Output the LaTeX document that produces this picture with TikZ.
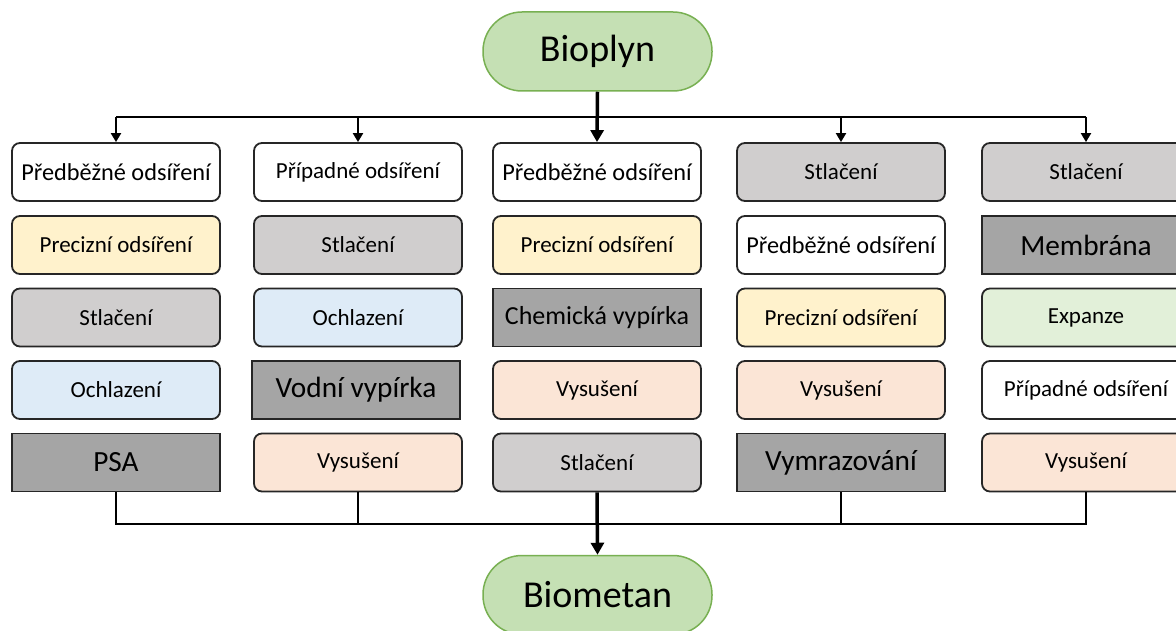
\documentclass[tikz,border=0pt]{standalone}
\usepackage{fontspec}
\setmainfont{Carlito}
\usetikzlibrary{arrows.meta}
\definecolor{cwhite}{HTML}{FFFFFF}
\definecolor{cyel}{HTML}{FFF2CC}
\definecolor{cgray}{HTML}{D0CECE}
\definecolor{cblue}{HTML}{DEEBF7}
\definecolor{cdark}{HTML}{A5A5A5}
\definecolor{cpeach}{HTML}{FBE5D6}
\definecolor{cgreen}{HTML}{E2F0D9}
\definecolor{bgfill}{HTML}{C5E0B4}
\definecolor{bgline}{HTML}{78B052}
\definecolor{lin}{HTML}{262626}
\tikzset{
  proc/.style={draw=lin, line width=1.8pt, rounded corners=8pt, minimum width=208pt, minimum height=58pt, inner sep=0pt, font=\fontsize{23}{27}\selectfont, text=black},
  wide/.style={font=\fontsize{24.3}{28}\selectfont},
  big/.style={draw=lin, line width=1.8pt, sharp corners, minimum width=208pt, minimum height=58pt, inner sep=0pt, font=\fontsize{29.3}{33}\selectfont, fill=cdark, text=black},
  term/.style={draw=bgline, line width=1.5pt, fill=bgfill, rounded corners=39pt, minimum width=229pt, minimum height=79pt, inner sep=0pt, font=\fontsize{38}{42}\selectfont},
  conn/.style={line width=2pt, draw=black},
  mainconn/.style={line width=3.5pt, draw=black},
  arr/.style={-{Triangle[length=9pt,width=10pt]}},
  bigarr/.style={-{Triangle[length=12pt,width=13pt]}}
}
\begin{document}
\begin{tikzpicture}[x=1pt,y=-1pt]
\useasboundingbox (0,0) rectangle (1176,631);
\clip (0,0) rectangle (1176,631);
\fill[white] (0,0) rectangle (1176,631);

\node[term] (bio) at (597.5,51.5) {Bioplyn};
\node[term] (bm) at (597.5,595) {Biometan};

% column 1
\node[proc, wide, fill=cwhite] (a1) at (116,172) {Předběžné odsíření};
\node[proc, fill=cyel]   (a2) at (116,245) {Precizní odsíření};
\node[proc, fill=cgray]  (a3) at (116,317.5) {Stlačení};
\node[proc, fill=cblue]  (a4) at (116,390) {Ochlazení};
\node[big]               (a5) at (116,462.5) {PSA};
% column 2
\node[proc, fill=cwhite] (b1) at (358,172) {Případné odsíření};
\node[proc, fill=cgray]  (b2) at (358,245) {Stlačení};
\node[proc, fill=cblue]  (b3) at (358,317.5) {Ochlazení};
\node[big]               (b4) at (356,390) {Vodní vypírka};
\node[proc, fill=cpeach] (b5) at (358,462.5) {Vysušení};
% column 3
\node[proc, wide, fill=cwhite] (c1) at (597,172) {Předběžné odsíření};
\node[proc, fill=cyel]   (c2) at (597,245) {Precizní odsíření};
\node[big, font=\fontsize{26}{30}\selectfont] (c3) at (597,317.5) {Chemická vypírka};
\node[proc, fill=cpeach] (c4) at (597,390) {Vysušení};
\node[proc, fill=cgray]  (c5) at (597,462.5) {Stlačení};
% column 4
\node[proc, fill=cgray]  (d1) at (841,172) {Stlačení};
\node[proc, wide, fill=cwhite] (d2) at (841,245) {Předběžné odsíření};
\node[proc, fill=cyel]   (d3) at (841,317.5) {Precizní odsíření};
\node[proc, fill=cpeach] (d4) at (841,390) {Vysušení};
\node[big]               (d5) at (841,462.5) {Vymrazování};
% column 5
\node[proc, fill=cgray]  (e1) at (1086,172) {Stlačení};
\node[big]               (e2) at (1086,245) {Membrána};
\node[proc, fill=cgreen] (e3) at (1086,317.5) {Expanze};
\node[proc, fill=cwhite] (e4) at (1086,390) {Případné odsíření};
\node[proc, fill=cpeach] (e5) at (1086,462.5) {Vysušení};

% top distribution
\coordinate (tl) at (116,117);
\coordinate (tr) at (1086,117);
\draw[conn] (tl) -- (tr);
\draw[conn, arr] (tl) -- (a1.north);
\draw[conn, arr] (tl -| b1.north) -- (b1.north);
\draw[conn, arr] (tl -| d1.north) -- (d1.north);
\draw[conn, arr] (tr) -- (e1.north);
\draw[mainconn, bigarr] (bio.south) -- (c1.north);

% bottom collection
\coordinate (bl) at (116,524);
\coordinate (br) at (1086,524);
\draw[conn] (a5.south) -- (bl) -- (br) -- (e5.south);
\draw[conn] (b5.south) -- (b5.south |- bl);
\draw[conn] (d5.south) -- (d5.south |- bl);
\draw[mainconn, bigarr] (c5.south) -- (bm.north);
\end{tikzpicture}
\end{document}
